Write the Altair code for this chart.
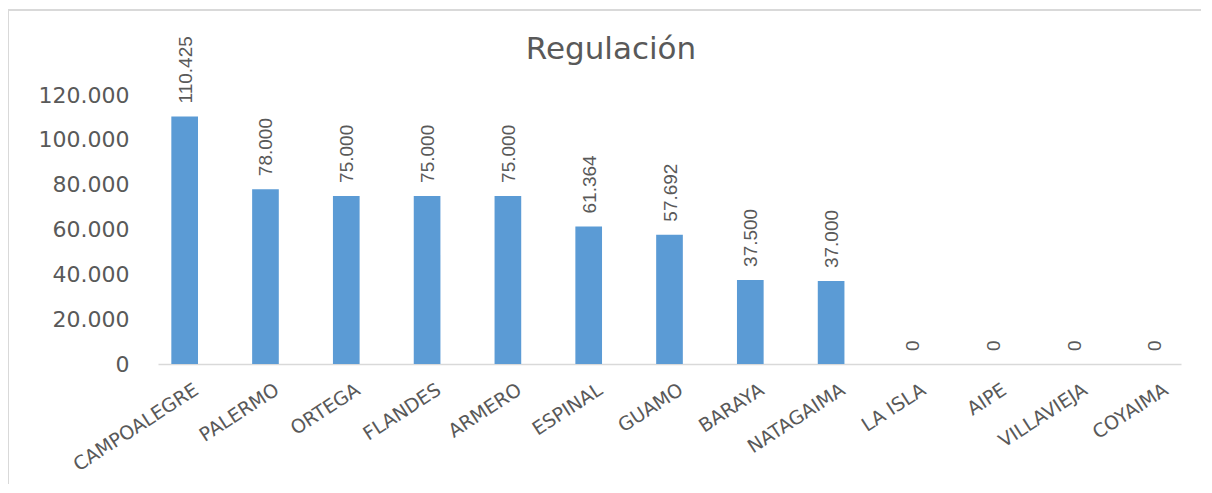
import altair as alt
import pandas as pd

categories = ["CAMPOALEGRE", "PALERMO", "ORTEGA", "FLANDES", "ARMERO", "ESPINAL",
              "GUAMO", "BARAYA", "NATAGAIMA", "LA ISLA", "AIPE", "VILLAVIEJA", "COYAIMA"]
values = [110425, 78000, 75000, 75000, 75000, 61364, 57692, 37500, 37000, 0, 0, 0, 0]
y_ticks = [0, 20000, 40000, 60000, 80000, 100000, 120000]
title_text = "Regulación"

df = pd.DataFrame({
    "municipio": categories,
    "valor": values,
    "etiqueta": [f"{v:,}".replace(",", ".") for v in values],
})

W, H = 1023, 269
GRAY = "#595959"
BAR = "#5B9BD5"

x_enc = alt.X("municipio:N", sort=categories, title=None,
              scale=alt.Scale(paddingInner=0.67, paddingOuter=0.165),
              axis=alt.Axis(labelAngle=-33, labelFont="DejaVu Sans", labelFontSize=19,
                            labelColor=GRAY, ticks=False, domainColor="#D9D9D9",
                            domainWidth=1.5, labelPadding=16, labelOffset=7,
                            labelOverlap=False, labelAlign="right", labelBaseline="top"))
y_enc = alt.Y("valor:Q", title=None,
              scale=alt.Scale(domain=[0, 120000], nice=False),
              axis=alt.Axis(values=y_ticks, grid=False, domain=False, ticks=False,
                            labelFont="DejaVu Sans", labelFontSize=22, labelColor=GRAY,
                            labelPadding=29,
                            labelExpr="replace(format(datum.value, ','), ',', '.')"))

bars = alt.Chart(df).mark_bar(color=BAR).encode(x=x_enc, y=y_enc)

labels = alt.Chart(df).mark_text(
    angle=270, align="left", baseline="middle", dx=13, dy=1,
    font="Liberation Sans", fontSize=19, color=GRAY
).encode(x=x_enc, y=y_enc, text="etiqueta:N")

one = alt.Data(values=[{"a": 1}])
title = alt.Chart(one).mark_text(
    font="DejaVu Sans", fontSize=31, color=GRAY, align="center", baseline="alphabetic"
).encode(x=alt.value(453), y=alt.value(-36), text=alt.value(title_text))

border_left = alt.Chart(one).mark_rule(color="#D9D9D9", strokeWidth=2).encode(
    x=alt.value(-150), y=alt.value(-85), y2=alt.value(420))
border_top = alt.Chart(one).mark_rule(color="#D9D9D9", strokeWidth=2).encode(
    x=alt.value(-150), x2=alt.value(1045), y=alt.value(-85))

chart = alt.layer(border_left, border_top, bars, labels, title).properties(
    width=W, height=H,
    autosize=alt.AutoSizeParams(type="none"),
    padding={"left": 150, "top": 87, "right": 20, "bottom": 120},
).configure(background="white").configure_view(strokeWidth=0, stroke="transparent")

chart.save("out.html", embed_options={"renderer": "svg", "actions": False})
